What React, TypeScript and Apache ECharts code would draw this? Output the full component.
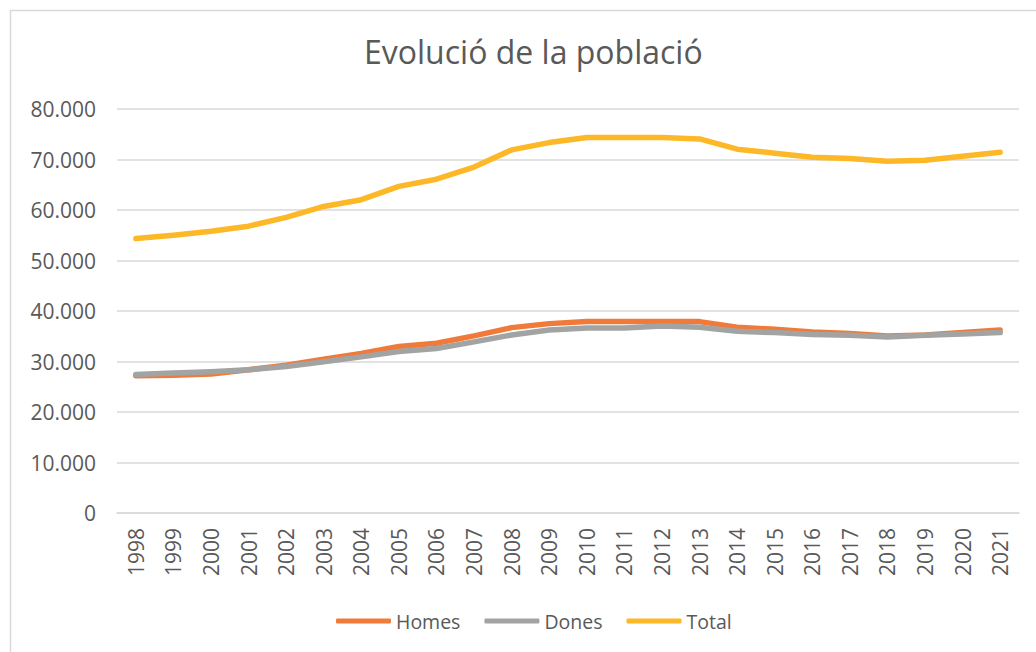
import React, { useEffect, useRef } from "react";
import * as echarts from "echarts";

const years = [
  "1998", "1999", "2000", "2001", "2002", "2003", "2004", "2005", "2006", "2007", "2008", "2009",
  "2010", "2011", "2012", "2013", "2014", "2015", "2016", "2017", "2018", "2019", "2020", "2021",
];
const homes = [
  27170, 27300, 27500, 28360, 29270, 30460, 31580, 32960, 33620, 35070, 36710, 37500,
  37900, 37900, 37900, 37900, 36780, 36380, 35860, 35530, 35070, 35260, 35720, 36250,
];
const dones = [
  27430, 27700, 27960, 28360, 29010, 29930, 30920, 31970, 32570, 33880, 35260, 36250,
  36640, 36640, 37040, 36780, 35990, 35720, 35330, 35200, 34870, 35200, 35460, 35720,
];
const total = [
  54340, 55000, 55800, 56800, 58550, 60700, 62040, 64670, 66100, 68500, 71900, 73350,
  74340, 74340, 74340, 74080, 72040, 71250, 70460, 70200, 69670, 69870, 70660, 71450,
];
const seriesNames = ["Homes", "Dones", "Total"];
const colors = ["#F07A39", "#A2A4A4", "#FDB827"];

const FONT = "Open Sans";
const TEXT = "#595959";
const GRID = "#D9D9D9";

function fmt(v: number): string {
  return String(v).replace(/\B(?=(\d{3})+(?!\d))/g, ".");
}

export default function App() {
  const ref = useRef<HTMLDivElement>(null);
  useEffect(() => {
    if (!ref.current) return;
    const chart = echarts.init(ref.current, null, { renderer: "svg" });
    const data = [homes, dones, total];
    chart.setOption({
      animation: false,
      backgroundColor: "#ffffff",
      color: colors,
      textStyle: { fontFamily: FONT },
      title: {
        text: "Evolució de la població",
        left: 359,
        top: 30,
        textStyle: { fontFamily: FONT, fontSize: 32, fontWeight: "normal", color: TEXT },
      },
      graphic: [
        {
          type: "rect",
          shape: { x: 10.5, y: 10.5, width: 1100, height: 700 },
          style: { fill: "none", stroke: GRID, lineWidth: 1.5 },
          silent: true,
        },
      ],
      legend: {
        left: 331,
        top: 606,
        icon: "roundRect",
        itemWidth: 55,
        itemHeight: 5,
        itemGap: 24,
        textStyle: { fontFamily: FONT, fontSize: 19.5, color: TEXT },
        data: seriesNames,
      },
      grid: { left: 117, right: 17, top: 109, bottom: 139, containLabel: false },
      xAxis: {
        type: "category",
        data: years,
        boundaryGap: true,
        axisLine: { show: true, lineStyle: { color: GRID, width: 1.5 } },
        axisTick: { show: false },
        axisLabel: {
          rotate: 90,
          margin: 15,
          interval: 0,
          fontFamily: FONT,
          fontSize: 21,
          color: TEXT,
        },
      },
      yAxis: {
        type: "value",
        min: 0,
        max: 80000,
        interval: 10000,
        axisLine: { show: false },
        axisTick: { show: false },
        splitLine: { lineStyle: { color: GRID, width: 1.5 } },
        axisLabel: {
          margin: 21,
          fontFamily: FONT,
          fontSize: 21,
          color: TEXT,
          formatter: (v: number) => fmt(v),
        },
      },
      series: seriesNames.map((name, i) => ({
        name,
        type: "line",
        data: data[i],
        symbol: "none",
        smooth: false,
        lineStyle: { width: 5.5, color: colors[i], cap: "round", join: "round" },
        itemStyle: { color: colors[i] },
      })),
    });
    return () => chart.dispose();
  }, []);
  return (
    <div
      ref={ref}
      style={{ position: "fixed", left: 0, top: 0, width: 1036, height: 652 }}
    />
  );
}
